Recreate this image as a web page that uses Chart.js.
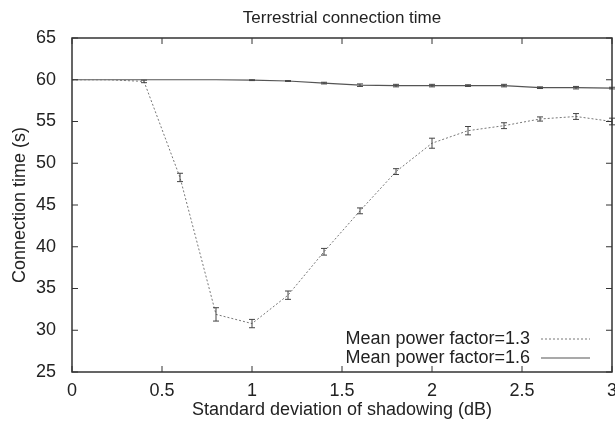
<!DOCTYPE html>
<html>
<head>
<meta charset="utf-8">
<script src="https://cdn.jsdelivr.net/npm/chart.js@4/dist/chart.umd.min.js"></script>
<style>
  html, body { margin: 0; padding: 0; background: #fff; }
  #wrap { width: 615px; height: 424px; position: relative; }
</style>
</head>
<body>
<div id="wrap"><canvas id="chart"></canvas></div>
<script>
// x values (dB)
const sigma = [0, 0.2, 0.4, 0.6, 0.8, 1.0, 1.2, 1.4, 1.6, 1.8, 2.0, 2.2, 2.4, 2.6, 2.8, 3.0];
// mean power factor = 1.3 (dotted)
const mpf13 = [60.0, 60.0, 59.8, 48.3, 31.9, 30.8, 34.2, 39.4, 44.3, 49.0, 52.4, 53.9, 54.5, 55.3, 55.6, 55.0];
const err13 = [0, 0, 0.15, 0.5, 0.8, 0.5, 0.5, 0.4, 0.35, 0.35, 0.6, 0.5, 0.35, 0.25, 0.35, 0.4];
// mean power factor = 1.6 (solid)
const mpf16 = [60.0, 60.0, 60.0, 60.0, 60.0, 59.95, 59.85, 59.6, 59.35, 59.3, 59.3, 59.3, 59.3, 59.05, 59.05, 59.0];
const err16 = [0, 0, 0, 0, 0, 0.05, 0.05, 0.1, 0.15, 0.15, 0.15, 0.1, 0.15, 0.1, 0.15, 0.1];

const xTicks = [0, 0.5, 1, 1.5, 2, 2.5, 3];
const yTicks = [25, 30, 35, 40, 45, 50, 55, 60, 65];
const chartTitle = 'Terrestrial connection time';

const FONT = '"Liberation Sans", Arial, Helvetica, sans-serif';

// titre centré sur la zone du graphe, cadre, petits traits, barres d'erreur et légende
const gnuplotLook = {
  id: 'gnuplotLook',
  afterDatasetsDraw(chart) {
    const ctx = chart.ctx;
    const a = chart.chartArea;
    const xs = chart.scales.x, ys = chart.scales.y;
    ctx.save();

    // titre
    ctx.font = '17px ' + FONT;
    ctx.fillStyle = '#222';
    ctx.textAlign = 'center';
    ctx.textBaseline = 'middle';
    ctx.fillText(chartTitle, (a.left + a.right) / 2, 18);

    // barres d'erreur
    chart.data.datasets.forEach(ds => {
      ctx.strokeStyle = '#444';
      ctx.lineWidth = 1;
      ds.errors.forEach((e, i) => {
        if (!e) return;
        const px = xs.getPixelForValue(ds.data[i].x);
        const y1 = ys.getPixelForValue(ds.data[i].y - e);
        const y2 = ys.getPixelForValue(ds.data[i].y + e);
        ctx.beginPath();
        ctx.moveTo(px, y1); ctx.lineTo(px, y2);
        ctx.moveTo(px - 3, y1); ctx.lineTo(px + 3, y1);
        ctx.moveTo(px - 3, y2); ctx.lineTo(px + 3, y2);
        ctx.stroke();
      });
    });

    // cadre
    ctx.strokeStyle = '#333';
    ctx.lineWidth = 1.5;
    ctx.strokeRect(a.left, a.top, a.right - a.left, a.bottom - a.top);

    // traits intérieurs
    ctx.lineWidth = 1;
    ctx.beginPath();
    xTicks.forEach(v => {
      const px = xs.getPixelForValue(v);
      ctx.moveTo(px, a.bottom); ctx.lineTo(px, a.bottom - 6);
      ctx.moveTo(px, a.top); ctx.lineTo(px, a.top + 6);
    });
    yTicks.forEach(v => {
      const py = ys.getPixelForValue(v);
      ctx.moveTo(a.left, py); ctx.lineTo(a.left + 6, py);
      ctx.moveTo(a.right, py); ctx.lineTo(a.right - 6, py);
    });
    ctx.stroke();

    // légende (texte à gauche, échantillon à droite)
    ctx.font = '18px ' + FONT;
    ctx.textAlign = 'right';
    chart.data.datasets.forEach((ds, i) => {
      const y = 339 + i * 19;
      ctx.fillText(ds.label, 530, y);
      ctx.strokeStyle = ds.borderColor;
      ctx.lineWidth = ds.borderWidth;
      ctx.setLineDash(ds.borderDash || []);
      ctx.beginPath();
      ctx.moveTo(541, y); ctx.lineTo(590, y);
      ctx.stroke();
      ctx.setLineDash([]);
    });
    ctx.restore();
  }
};

const ctx = document.getElementById('chart').getContext('2d');
new Chart(ctx, {
  type: 'line',
  data: {
    datasets: [
      {
        label: 'Mean power factor=1.3',
        data: sigma.map((x, i) => ({ x: x, y: mpf13[i] })),
        errors: err13,
        borderColor: '#777',
        borderWidth: 1,
        borderDash: [2, 2],
        pointRadius: 0,
        tension: 0
      },
      {
        label: 'Mean power factor=1.6',
        data: sigma.map((x, i) => ({ x: x, y: mpf16[i] })),
        errors: err16,
        borderColor: '#555',
        borderWidth: 1.2,
        pointRadius: 0,
        tension: 0
      }
    ]
  },
  options: {
    responsive: true,
    maintainAspectRatio: false,
    animation: false,
    layout: { padding: { left: 0, right: 3, top: 38, bottom: 0 } },
    plugins: {
      legend: { display: false },
      tooltip: { enabled: false },
      title: { display: false }
    },
    scales: {
      x: {
        type: 'linear',
        min: 0, max: 3,
        grid: { display: false },
        border: { display: false },
        afterBuildTicks: s => { s.ticks = xTicks.map(v => ({ value: v })); },
        afterFit: s => { s.height = 52; s.paddingLeft = 0; s.paddingRight = 0; },
        ticks: {
          color: '#222',
          padding: 0,
          maxRotation: 0,
          font: { family: FONT, size: 18 },
          callback: v => String(v)
        },
        title: {
          display: true,
          text: 'Standard deviation of shadowing (dB)',
          color: '#222',
          font: { family: FONT, size: 18 },
          padding: { top: 0, bottom: 3 }
        }
      },
      y: {
        min: 25, max: 65,
        grid: { display: false },
        border: { display: false },
        afterBuildTicks: s => { s.ticks = yTicks.map(v => ({ value: v })); },
        afterFit: s => { s.width = 72; s.paddingTop = 0; s.paddingBottom = 0; },
        ticks: {
          color: '#222',
          padding: 8,
          font: { family: FONT, size: 18 }
        },
        title: {
          display: true,
          text: 'Connection time (s)',
          color: '#222',
          font: { family: FONT, size: 18 },
          padding: { top: 9, bottom: 0 }
        }
      }
    }
  },
  plugins: [gnuplotLook]
});
</script>
</body>
</html>
